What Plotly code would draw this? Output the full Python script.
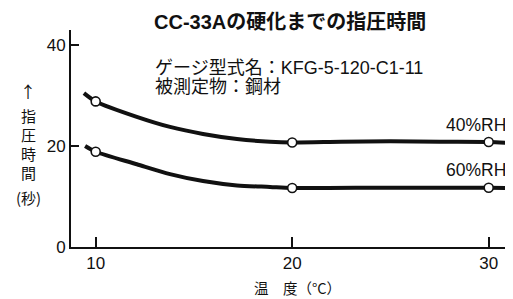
import plotly.graph_objects as go

# Curves (temperature °C, time s)
curve40_x = [9.40, 10.0, 12.09, 13.78, 15.46, 17.19, 18.87, 20.0, 22.5, 25.0, 27.5, 30.0, 31.1]
curve40_y = [30.5, 28.85, 25.8, 23.8, 22.4, 21.4, 20.85, 20.7, 20.85, 20.95, 20.85, 20.8, 20.6]
curve60_x = [9.46, 10.0, 12.09, 13.78, 15.46, 17.19, 18.87, 20.0, 25.0, 30.0, 31.1]
curve60_y = [20.0, 18.87, 16.4, 14.45, 13.07, 12.2, 11.9, 11.7, 11.75, 11.75, 11.7]

# Measured points
temps = [10, 20, 30]
time40 = [28.85, 20.7, 20.8]
time60 = [18.87, 11.7, 11.75]

x_ticks = [10, 20, 30]
y_ticks = [0, 20, 40]

FONT = "Liberation Sans, Noto Sans CJK JP, sans-serif"
JP = "Noto Sans CJK JP, sans-serif"

# page body has an 8px margin: lay out in window pixels, then offset
OFF = 8
FW, FH = 513 - OFF, 299 - OFF
L, T, W, H = 71 - OFF, 30 - OFF, 442, 217

fig = go.Figure()
for cx, cy in [(curve40_x, curve40_y), (curve60_x, curve60_y)]:
    fig.add_trace(go.Scatter(x=cx, y=cy, mode="lines",
                             line=dict(color="#111111", width=4, shape="spline", smoothing=0.8),
                             hoverinfo="skip", cliponaxis=False))
for ty in [time40, time60]:
    fig.add_trace(go.Scatter(x=temps, y=ty, mode="markers", cliponaxis=False,
                             marker=dict(symbol="circle", size=9, color="white",
                                         line=dict(color="#111111", width=1.6))))

fig.update_layout(
    width=FW, height=FH,
    margin=dict(l=L, r=FW - L - W, t=T, b=FH - T - H, autoexpand=False),
    paper_bgcolor="white", plot_bgcolor="white",
    showlegend=False,
    font=dict(family=FONT, color="#111111", size=14),
)
fig.update_xaxes(range=[8.743, 31.237], tickvals=x_ticks, ticktext=[str(v) for v in x_ticks],
                 showgrid=False, zeroline=False, showline=True, linecolor="#111111", linewidth=2,
                 ticks="inside", ticklen=10, tickwidth=1.5, tickcolor="#111111",
                 tickfont=dict(size=17, family=FONT), automargin=False)
fig.update_yaxes(range=[0, 43], tickvals=y_ticks, ticktext=[str(v) for v in y_ticks],
                 showgrid=False, zeroline=False, showline=True, linecolor="#111111", linewidth=2,
                 ticks="inside", ticklen=8, tickwidth=1.5, tickcolor="#111111",
                 tickfont=dict(size=17, family=FONT), automargin=False)

ann = []
ann.append(dict(text="<b>CC-33Aの硬化までの指圧時間</b>", x=290, y=22, font=dict(size=20, family=FONT)))
ann.append(dict(text="ゲージ型式名：KFG-5-120-C1-11", x=153, y=68, xanchor="left", font=dict(size=18, family=FONT)))
ann.append(dict(text="被測定物：鋼材", x=153, y=87, xanchor="left", font=dict(size=18, family=FONT)))
ann.append(dict(text="40%RH", x=508, y=125, xanchor="right", font=dict(size=17.5, family=FONT)))
ann.append(dict(text="60%RH", x=508, y=170, xanchor="right", font=dict(size=17.5, family=FONT)))
ann.append(dict(text="↑", x=28, y=91, font=dict(size=16, family=JP)))
for ch, yy in [("指", 115), ("圧", 134), ("時", 153), ("間", 172)]:
    ann.append(dict(text=ch, x=28, y=yy, font=dict(size=15, family=JP)))
ann.append(dict(text="(秒)", x=28, y=197, font=dict(size=15, family=JP)))
ann.append(dict(text="温　度（°C）", x=297, y=287, font=dict(size=14.5, family=JP)))

for a in ann:
    a.update(xref="paper", yref="paper", showarrow=False)
    a["x"] = (a["x"] - OFF - L) / W
    a["y"] = (T + H - (a["y"] - OFF)) / H
    a.setdefault("xanchor", "center")
    a["yanchor"] = "middle"
fig.update_layout(annotations=ann)

fig.write_html("out.html")
